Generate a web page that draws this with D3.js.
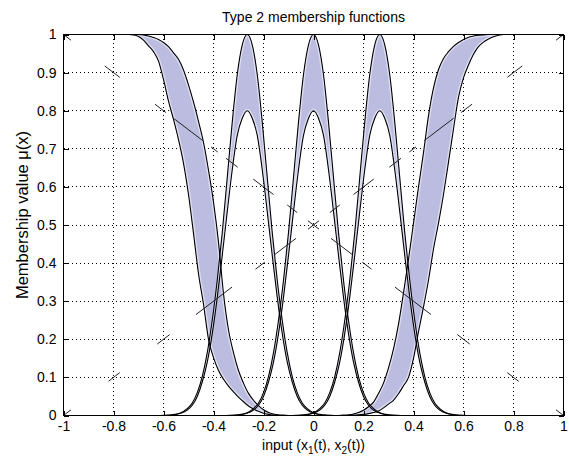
<!DOCTYPE html>
<html>
<head>
<meta charset="utf-8">
<script src="https://cdnjs.cloudflare.com/ajax/libs/d3/7.8.5/d3.min.js"></script>
<style>
  body { margin: 0; background: #fff; }
  text { font-family: "Liberation Sans", Arial, sans-serif; fill: #000; }
</style>
</head>
<body>
<div id="graph"></div>
<script>
const width = 569, height = 456
const margin = { top: 34.5, right: 5.5, bottom: 40.5, left: 63.5 }
const fontFamily = '"Liberation Sans", Arial, sans-serif'
const fontSize = 14

const titleText = 'Type 2 membership functions'
const yLabel = 'Membership value \u03bc(x)'
const xTicks = [-1, -0.8, -0.6, -0.4, -0.2, 0, 0.2, 0.4, 0.6, 0.8, 1]
const yTicks = [0, 0.1, 0.2, 0.3, 0.4, 0.5, 0.6, 0.7, 0.8, 0.9, 1]

// three middle MFs, profile read as distance from each centre
const midCentres = [-0.265, 0, 0.265]
const midOffsets = [0, 0.02, 0.04, 0.06, 0.08, 0.10, 0.12, 0.14, 0.16, 0.18, 0.20, 0.22, 0.24, 0.27, 0.30, 0.35]
const midUpper = [1, 0.973, 0.895, 0.77, 0.625, 0.48, 0.355, 0.25, 0.165, 0.102, 0.06, 0.033, 0.018, 0.006, 0.002, 0]
const midLower = [0.8, 0.78, 0.735, 0.645, 0.535, 0.42, 0.31, 0.215, 0.14, 0.088, 0.05, 0.027, 0.014, 0.005, 0.001, 0]

// shoulder MFs, read at |x|
const shoulderX = [0.10, 0.12, 0.14, 0.16, 0.18, 0.20, 0.22, 0.24, 0.26, 0.28, 0.30, 0.32, 0.34, 0.36, 0.38,
  0.40, 0.42, 0.44, 0.46, 0.48, 0.50, 0.52, 0.54, 0.56, 0.58, 0.60, 0.62, 0.64, 0.66, 0.68, 0.70, 0.72, 0.74, 0.76, 1.00]
const leftUpper = [0, 0.001, 0.002, 0.004, 0.008, 0.015, 0.026, 0.04, 0.058, 0.085, 0.118, 0.165, 0.225, 0.32, 0.455,
  0.56, 0.644, 0.717, 0.772, 0.823, 0.868, 0.907, 0.935, 0.952, 0.968, 0.979, 0.987, 0.992, 0.996, 0.999, 1, 1, 1, 1, 1]
const leftLower = [0, 0, 0, 0.001, 0.003, 0.006, 0.011, 0.017, 0.025, 0.036, 0.048, 0.062, 0.077, 0.095, 0.118,
  0.152, 0.2, 0.292, 0.372, 0.478, 0.58, 0.662, 0.724, 0.777, 0.825, 0.882, 0.93, 0.955, 0.97, 0.985, 0.995, 0.999, 1, 1, 1]
const rightUpper = [0, 0.001, 0.002, 0.004, 0.008, 0.014, 0.023, 0.035, 0.058, 0.085, 0.125, 0.175, 0.24, 0.322, 0.41,
  0.505, 0.6, 0.69, 0.787, 0.86, 0.908, 0.937, 0.955, 0.969, 0.979, 0.987, 0.993, 0.996, 0.998, 0.999, 1, 1, 1, 1, 1]
const rightLower = [0, 0, 0, 0.001, 0.002, 0.003, 0.005, 0.008, 0.012, 0.02, 0.03, 0.04, 0.057, 0.078, 0.1,
  0.15, 0.22, 0.285, 0.355, 0.437, 0.505, 0.58, 0.665, 0.752, 0.835, 0.886, 0.92, 0.948, 0.968, 0.98, 0.988, 0.994, 0.998, 1, 1]

// visible pieces of the broken diagonal (x ranges on the line from (-1,1) to (1,0));
// the other diagonal shows the mirror of these
const dashPieces = [[-1, -0.97], [-0.835, -0.775], [-0.634, -0.59], [-0.561, -0.443], [-0.41, -0.383], [-0.35, -0.303],
  [-0.241, -0.16], [-0.105, -0.065], [-0.022, 0.022], [0.07, 0.158], [0.195, 0.232], [0.326, 0.47],
  [0.575, 0.625], [0.775, 0.82], [0.97, 1]]

const bandColour = '#bbbcdf'
const haloColour = '#dcdcf0'

const svg = d3.select('#graph')
  .append('svg')
  .attr('width', width)
  .attr('height', height)
  .style('display', 'block')

const x = d3.scaleLinear().domain([-1, 1]).range([margin.left, width - margin.right])
const y = d3.scaleLinear().domain([0, 1]).range([height - margin.bottom, margin.top])

const defs = svg.append('defs')
defs.append('clipPath').attr('id', 'plotClip')
  .append('rect')
  .attr('x', margin.left).attr('y', margin.top)
  .attr('width', width - margin.left - margin.right)
  .attr('height', height - margin.top - margin.bottom)

// grid
const grid = svg.append('g')
  .attr('stroke', '#000')
  .attr('stroke-width', 1)
  .attr('stroke-dasharray', '1,3')
  .attr('shape-rendering', 'crispEdges')
grid.selectAll('.gx')
  .data(xTicks.slice(1, -1))
  .enter().append('line')
  .attr('x1', d => x(d)).attr('x2', d => x(d))
  .attr('y1', y(1)).attr('y2', y(0))
grid.selectAll('.gy')
  .data(yTicks.slice(1, -1))
  .enter().append('line')
  .attr('x1', x(-1)).attr('x2', x(1))
  .attr('y1', d => y(d)).attr('y2', d => y(d))

// membership functions
const mfs = []
mfs.push(shoulderX.map((a, i) => ({ x: -a, u: leftUpper[i], l: leftLower[i] })).reverse())
mfs.push(shoulderX.map((a, i) => ({ x: a, u: rightUpper[i], l: rightLower[i] })))
midCentres.forEach(c => {
  const right = midOffsets.map((o, i) => ({ x: c + o, u: midUpper[i], l: midLower[i] }))
  const left = right.slice(1).map(d => ({ x: 2 * c - d.x, u: d.u, l: d.l })).reverse()
  mfs.push(left.concat(right))
})

const band = d3.area()
  .x(d => x(d.x))
  .y0(d => y(d.l))
  .y1(d => y(d.u))
  .curve(d3.curveMonotoneX)
const upperLine = d3.line().x(d => x(d.x)).y(d => y(d.u)).curve(d3.curveMonotoneX)
const lowerLine = d3.line().x(d => x(d.x)).y(d => y(d.l)).curve(d3.curveMonotoneX)

const plot = svg.append('g').attr('clip-path', 'url(#plotClip)')

mfs.forEach((mf, i) => {
  defs.append('clipPath').attr('id', 'band' + i)
    .append('path').attr('d', band(mf))
})

plot.selectAll('.band')
  .data(mfs)
  .enter().append('path')
  .attr('d', band)
  .attr('fill', bandColour)

// lighter rim just inside each band
plot.selectAll('.halo')
  .data(mfs)
  .enter().append('path')
  .attr('d', band)
  .attr('fill', 'none')
  .attr('stroke', haloColour)
  .attr('stroke-width', 4)
  .attr('clip-path', (d, i) => 'url(#band' + i + ')')

plot.selectAll('.upper')
  .data(mfs)
  .enter().append('path')
  .attr('d', upperLine)
  .attr('fill', 'none')
  .attr('stroke', '#000')
  .attr('stroke-width', 1.1)

plot.selectAll('.lower')
  .data(mfs)
  .enter().append('path')
  .attr('d', lowerLine)
  .attr('fill', 'none')
  .attr('stroke', '#000')
  .attr('stroke-width', 1.1)

// the two broken diagonals
const lineDown = d3.scaleLinear().domain([-1, 1]).range([1, 0])
const lineUp = d3.scaleLinear().domain([-1, 1]).range([0, 1])
const pieces = dashPieces.map(([a, b]) => [[a, lineDown(a)], [b, lineDown(b)]])
  .concat(dashPieces.map(([a, b]) => [[-b, lineUp(-b)], [-a, lineUp(-a)]]))

plot.selectAll('.dash')
  .data(pieces)
  .enter().append('line')
  .attr('x1', d => x(d[0][0])).attr('y1', d => y(d[0][1]))
  .attr('x2', d => x(d[1][0])).attr('y2', d => y(d[1][1]))
  .attr('stroke', '#222')
  .attr('stroke-width', 1)

// axes, MATLAB style box with inward ticks
const styleAxis = g => {
  g.select('.domain').remove()
  g.attr('font-family', fontFamily).attr('font-size', fontSize)
  g.selectAll('.tick line').attr('shape-rendering', 'crispEdges')
}

svg.append('g')
  .attr('transform', 'translate(0,' + y(0) + ')')
  .call(d3.axisBottom(x).tickValues(xTicks).tickSizeInner(-5).tickSizeOuter(0).tickPadding(6).tickFormat(d => d))
  .call(styleAxis)

svg.append('g')
  .attr('transform', 'translate(0,' + y(1) + ')')
  .call(d3.axisTop(x).tickValues(xTicks).tickSizeInner(-5).tickSizeOuter(0).tickFormat(''))
  .call(styleAxis)

svg.append('g')
  .attr('transform', 'translate(' + x(-1) + ',0)')
  .call(d3.axisLeft(y).tickValues(yTicks).tickSizeInner(-5).tickSizeOuter(0).tickPadding(7).tickFormat(d => d))
  .call(styleAxis)

svg.append('g')
  .attr('transform', 'translate(' + x(1) + ',0)')
  .call(d3.axisRight(y).tickValues(yTicks).tickSizeInner(-5).tickSizeOuter(0).tickFormat(''))
  .call(styleAxis)

svg.append('rect')
  .attr('x', x(-1)).attr('y', y(1))
  .attr('width', x(1) - x(-1)).attr('height', y(0) - y(1))
  .attr('fill', 'none')
  .attr('stroke', '#000')
  .attr('shape-rendering', 'crispEdges')

// texts
svg.append('text')
  .attr('x', (x(-1) + x(1)) / 2)
  .attr('y', 22)
  .attr('text-anchor', 'middle')
  .attr('font-size', fontSize)
  .text(titleText)

const xl = svg.append('text')
  .attr('x', (x(-1) + x(1)) / 2)
  .attr('y', 450)
  .attr('text-anchor', 'middle')
  .attr('font-size', fontSize)
xl.append('tspan').text('input (x')
xl.append('tspan').attr('font-size', 10).attr('dy', 4).text('1')
xl.append('tspan').attr('dy', -4).text('(t), x')
xl.append('tspan').attr('font-size', 10).attr('dy', 4).text('2')
xl.append('tspan').attr('dy', -4).text('(t))')

svg.append('text')
  .attr('transform', 'translate(28,215) rotate(-90)')
  .attr('text-anchor', 'middle')
  .attr('font-size', 16.5)
  .text(yLabel)
</script>
</body>
</html>
